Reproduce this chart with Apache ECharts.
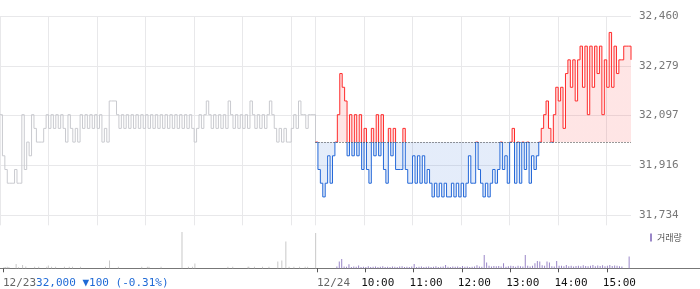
<!DOCTYPE html>
<html><head><meta charset="utf-8">
<script src="https://cdn.jsdelivr.net/npm/echarts@6/dist/echarts.min.js"></script>
<style>html,body{margin:0;padding:0;background:#fff}#c{width:700px;height:289px}</style>
</head><body><div id="c"></div>
<script>
// minutes since 12/23 09:00 (continuous trading-time axis; 12/24 09:00 = 390)
const sampleStep = 3;
const prevDayStart = 0;
const todayStart = 390;
const sessionEnd = 780;
const prevClose = 32000;
const prevInfo = '32,000 ▼100 (-0.31%)';

// 12/23 price, one value every 3 minutes
const prevDayPrice = [
32100,31950,31900,31850,31850,31850,31900,31850,31850,32100,
31900,32000,31950,32100,32050,32000,32000,32000,32050,32100,
32050,32100,32050,32100,32050,32100,32050,32000,32100,32050,
32000,32050,32000,32100,32050,32100,32050,32100,32050,32100,
32050,32100,32000,32050,32000,32150,32150,32150,32100,32050,
32100,32050,32100,32050,32100,32050,32100,32050,32100,32050,
32100,32050,32100,32050,32100,32050,32100,32050,32100,32050,
32100,32050,32100,32050,32100,32050,32100,32050,32100,32050,
32000,32050,32100,32050,32100,32150,32100,32050,32100,32050,
32100,32050,32100,32050,32150,32100,32050,32100,32050,32100,
32050,32100,32050,32150,32100,32050,32100,32050,32100,32050,
32100,32150,32100,32050,32000,32050,32000,32050,32000,32000,
32050,32100,32050,32150,32100,32100,32050,32100,32100,32100,
32000];

// 12/24 price, one value every 3 minutes
const todayPrice = [
32000,31900,31850,31800,31850,31950,31850,31950,32000,32100,
32250,32200,32150,31950,32100,31950,32100,31950,32100,31900,
32050,31900,31850,32050,31950,32100,31950,32100,31900,31850,
32050,31950,32050,31900,31900,31900,32050,31900,31850,31850,
31950,31850,31950,31850,31950,31850,31900,31850,31800,31850,
31800,31850,31800,31850,31800,31800,31850,31800,31850,31800,
31850,31800,31850,31950,31850,31850,32000,31900,31850,31800,
31850,31800,31850,31900,31850,31900,32000,31900,31950,31850,
32000,32050,31850,32000,31850,32000,31900,32000,31850,31950,
31900,31950,32000,32050,32100,32150,32050,32000,32100,32200,
32150,32200,32050,32250,32300,32200,32300,32150,32300,32350,
32200,32350,32100,32350,32200,32350,32250,32350,32100,32300,
32200,32400,32200,32350,32250,32300,32300,32350,32350,32350,
32300];

// 12/23 volume: [minute, volume]
const prevDayVolume = [
[2,1200],[4,1200],[6,1500],[8,1200],[17,4300],[20,1000],[25,3300],[29,1700],[40,1500],[45,1500],
[55,1500],[57,2700],[61,1500],[66,1500],[77,1500],[83,1500],[87,1500],[97,1500],[128,1500],[133,7700],
[144,1500],[173,1500],[180,1500],[182,1500],[197,1500],[223,36300],[231,1500],[236,1500],[239,4700],[280,1500],
[286,1500],[305,1500],[306,1500],[313,1500],[323,1500],[331,1500],[342,6700],[347,7700],[352,26700],[356,1500],
[362,1500],[369,1500],[376,1500],[379,1500],[389,35300]];

// 12/24 volume, one value every 3 minutes
const todayVolume = [
0,0,0,0,0,0,0,0,1700,6700,
9300,1700,1500,4000,1300,1700,1500,2700,1200,1500,
1300,2000,1200,1500,1700,1200,1500,2000,1300,1500,
1200,1800,1500,1300,1700,2000,1300,1500,1200,1700,
4300,1300,1500,1800,1300,1500,1700,1200,1500,2000,
1300,1500,1700,3300,1500,1300,1700,1500,1800,1300,
2300,1500,1700,1300,1500,1800,3000,1700,1500,13300,
5700,2500,1800,2300,2000,2300,1700,5000,1500,2000,
2500,2300,1500,2500,2000,1700,13300,2500,1700,2500,
5000,7300,6700,3000,2500,6700,5700,2000,1700,7300,
2500,2500,2000,3300,2000,2500,1700,2300,2500,2000,
3000,2300,2000,2500,3300,2000,2700,2300,3000,2000,
2500,3300,2300,2700,2500,2000,1700,0,0,11700,
0];

const yTicks = [31734, 31915.5, 32097, 32278.5, 32460];
const gridMinutes = [0,60,120,180,240,300,360,390,450,510,570,630,690,750];
const dateTickMinutes = [0, 390];
const dateLabels = ['12/23', '12/24'];
const hourTickMinutes = [450,510,570,630,690,750];
const hourLabels = ['10:00','11:00','12:00','13:00','14:00','15:00'];

const toPairs = (arr, start) => arr.map((v, i) => [start + i * sampleStep, v]);
const prevLine = toPairs(prevDayPrice, prevDayStart);
const todayLine = toPairs(todayPrice, todayStart);
const todayVolPairs = toPairs(todayVolume, todayStart).filter(p => p[1] > 0);

const mono = 'DejaVu Sans Mono';
const chart = echarts.init(document.getElementById('c'), null, {renderer: 'canvas'});
chart.setOption({
  animation: false,
  legend: {
    data: ['거래량'], left: 650, top: 233, padding: 0,
    icon: 'rect', itemWidth: 2, itemHeight: 8,
    textStyle: {fontSize: 9, color: '#555', fontFamily: 'Noto Sans CJK KR'}
  },
  grid: [
    {left: 0, width: 631, top: 16, height: 209.3},
    {left: 0, width: 631, top: 225.3, height: 43},
    {left: 0, right: 0, top: 225.3, height: 43}
  ],
  xAxis: [
    {gridIndex: 0, type: 'value', min: 0, max: sessionEnd,
     axisLine: {show: false}, axisLabel: {show: false},
     axisTick: {show: false, customValues: gridMinutes},
     splitLine: {show: true, lineStyle: {color: '#e8e8ea', width: 1}}},
    {gridIndex: 1, type: 'value', min: 0, max: sessionEnd, position: 'bottom',
     axisLine: {show: false}, splitLine: {show: false},
     axisTick: {show: true, customValues: dateTickMinutes.concat(hourTickMinutes), length: 4, lineStyle: {color: '#555'}},
     axisLabel: {show: true, customValues: dateTickMinutes, align: 'left', margin: 9, fontFamily: mono, fontSize: 11, color: '#666',
       formatter: v => v === dateTickMinutes[0] ? '{d|' + dateLabels[0] + '}{b|' + prevInfo + '}' : '{d|' + dateLabels[1] + '}',
       rich: {d: {color: '#666', fontFamily: mono, fontSize: 11}, b: {color: '#1f6ad6', fontFamily: mono, fontSize: 11}}}},
    {gridIndex: 1, type: 'value', min: 0, max: sessionEnd, position: 'bottom',
     axisLine: {show: false}, splitLine: {show: false}, axisTick: {show: false},
     axisLabel: {show: true, customValues: hourTickMinutes, align: 'center', padding: [0,0,0,25], margin: 9,
       fontFamily: mono, fontSize: 11, color: '#111',
       formatter: v => hourLabels[hourTickMinutes.indexOf(v)]}},
    {gridIndex: 2, type: 'value', position: 'top', min: 0, max: 1,
     axisLine: {show: true, lineStyle: {color: '#8c8c8c', width: 1}}, axisTick: {show: false}, axisLabel: {show: false}, splitLine: {show: false}},
    {gridIndex: 2, type: 'value', position: 'bottom', min: 0, max: 1,
     axisLine: {show: true, lineStyle: {color: '#777', width: 1}}, axisTick: {show: false}, axisLabel: {show: false}, splitLine: {show: false}}
  ],
  yAxis: [
    {gridIndex: 0, type: 'value', position: 'right', max: 32460, min: 32460 - 209.3 * 726 / 199,
     axisLine: {show: false},
     axisTick: {show: false, customValues: yTicks},
     axisLabel: {customValues: yTicks, margin: 8, fontFamily: mono, fontSize: 11, color: '#777',
       formatter: v => Math.round(v).toLocaleString('en-US')},
     splitLine: {show: true, lineStyle: {color: '#e8e8ea', width: 1}}},
    {gridIndex: 1, type: 'value', min: 0, max: 43000, show: false},
    {gridIndex: 2, type: 'value', min: 0, max: 1, show: false}
  ],
  visualMap: {
    show: false, type: 'piecewise', seriesIndex: 1, dimension: 1,
    pieces: [{gte: 30000, lt: prevClose, color: '#2468d8'}, {gte: prevClose, lte: 34000, color: '#ff2a2a'}],
    outOfRange: {color: '#999'}
  },
  series: [
    {name: '전일', type: 'line', step: 'end', xAxisIndex: 0, yAxisIndex: 0, data: prevLine,
     showSymbol: false, symbol: 'none', lineStyle: {color: '#c9cacf', width: 1}, silent: true},
    {name: '당일', type: 'line', step: 'end', xAxisIndex: 0, yAxisIndex: 0, data: todayLine,
     showSymbol: false, symbol: 'none', lineStyle: {width: 1},
     areaStyle: {origin: prevClose, opacity: 0.12},
     markLine: {silent: true, symbol: 'none', label: {show: false},
       lineStyle: {type: [1, 2], color: '#333', width: 1},
       data: [[{coord: [todayStart, prevClose]}, {coord: [sessionEnd, prevClose]}]]}},
    {name: '전일거래량', type: 'bar', xAxisIndex: 1, yAxisIndex: 1, data: prevDayVolume,
     barWidth: 1, itemStyle: {color: '#c8c8c8'}, silent: true},
    {name: '거래량', type: 'bar', xAxisIndex: 1, yAxisIndex: 1, data: todayVolPairs,
     barWidth: 1, itemStyle: {color: '#9a87c8'}, silent: true}
  ]
});
</script></body></html>
